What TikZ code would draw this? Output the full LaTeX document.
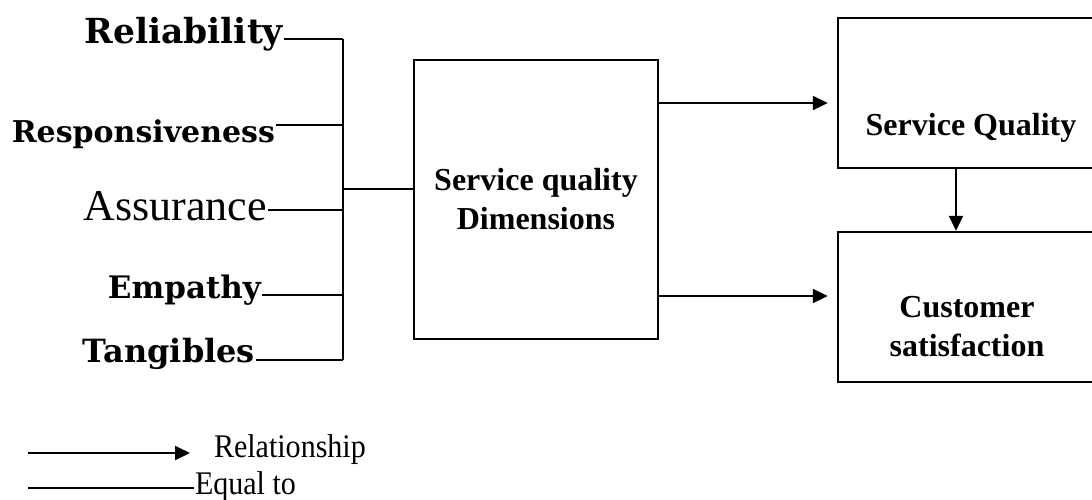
\documentclass[tikz,border=0pt]{standalone}
\usepackage{fontspec}
\setmainfont{Liberation Serif}
\newfontfamily\widefont{DejaVu Serif}
\usetikzlibrary{arrows.meta,positioning}
\tikzstyle{block} = [rectangle, draw, line width=2.4pt, inner sep=0pt]
\tikzstyle{dim} = [anchor=base east, inner sep=0pt, font=\widefont\bfseries\fontsize{31}{34}\selectfont]
\tikzstyle{boxtext} = [align=center, inner sep=0pt, font=\bfseries\fontsize{32}{39}\selectfont]
\tikzstyle{legend} = [anchor=base west, inner sep=0pt, font=\fontsize{33}{36}\selectfont]

\begin{document}
\begin{tikzpicture}[x=1pt,y=-1pt,line width=2pt,>={Triangle[length=15pt,width=14pt]}]
  \useasboundingbox (0,0) rectangle (1092,499);
  \clip (0,0) rectangle (1092,499);

  \node[dim, font=\widefont\bfseries\fontsize{34.5}{36}\selectfont] (rel) at (284,43) {Reliability};
  \node[dim, font=\widefont\bfseries\fontsize{30}{34}\selectfont] (resp) at (276,142) {Responsiveness};
  \node[dim, font=\fontsize{44}{48}\selectfont] (ass) at (268,220) {Assurance};
  \node[dim] (emp) at (262,298) {Empathy};
  \node[dim, font=\widefont\bfseries\fontsize{32}{34}\selectfont] (tan) at (256,362) {Tangibles};

  \node[block, minimum width=244pt, minimum height=279pt] (sqd) at (536,199.5) {};
  \node[boxtext] (sqdt) at (536,199) {Service quality\\Dimensions};
  \node[block, minimum width=268pt, minimum height=150pt] (sq) at (972,93) {};
  \node[boxtext, anchor=base] (sqt) at (971,135) {Service Quality};
  \node[block, minimum width=268pt, minimum height=150pt] (cs) at (972,307) {};
  \node[boxtext] (cst) at (967,327) {Customer\\satisfaction};

  \coordinate (bustop) at (343,39);
  \coordinate (busbot) at (343,360);
  \coordinate (busmid) at (343,189);

  % dimensions joined on one bus
  \draw (bustop) -- (busbot);
  \draw ([yshift=4pt]rel.base east) -- ([yshift=4pt]rel.base east -| bustop);
  \draw ([yshift=17pt]resp.base east) -- ([yshift=17pt]resp.base east -| bustop);
  \draw ([yshift=10pt]ass.base east) -- ([yshift=10pt]ass.base east -| bustop);
  \draw ([yshift=3pt]emp.base east) -- ([yshift=3pt]emp.base east -| bustop);
  \draw ([yshift=2pt]tan.base east) -- ([yshift=2pt]tan.base east -| bustop);
  \draw (busmid) -- (busmid -| sqd.west);

  % relationships
  \draw[->, shorten >=9pt] ([yshift=96.5pt]sqd.east) -- ([yshift=96.5pt]sqd.east -| sq.west);
  \draw[->, shorten >=9pt] ([yshift=-96.5pt]sqd.east) -- ([yshift=-96.5pt]sqd.east -| cs.west);
  \draw[->] ([xshift=-16pt]sq.south) -- ([xshift=-16pt]cs.north);

  % legend
  \node[legend] (relat) at (213,457) {\scalebox{0.91}[1]{Relationship}};
  \node[legend] (eq) at (194,494) {\scalebox{0.91}[1]{Equal to}};
  \coordinate (relA) at (28,453);
  \coordinate (relB) at (190,453);
  \coordinate (eqA) at (28,488);
  \draw[->] (relA) -- (relB);
  \draw (eqA) -- (eqA -| eq.west);
\end{tikzpicture}
\end{document}
